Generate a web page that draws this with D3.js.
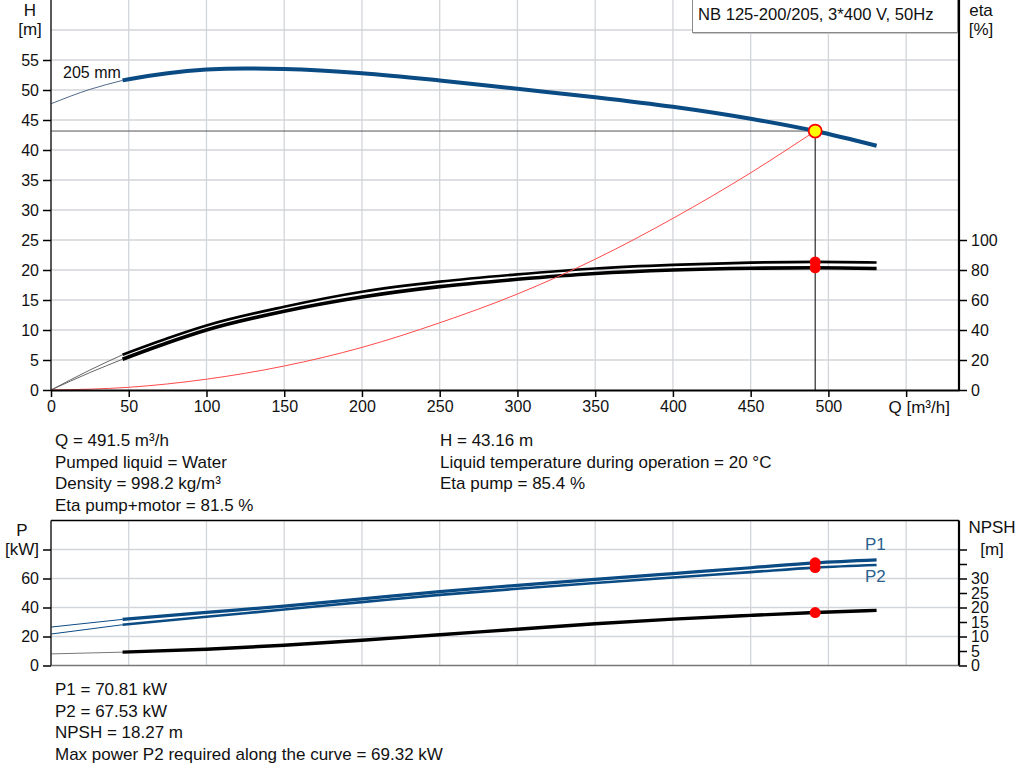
<!DOCTYPE html>
<html>
<head>
  <meta charset="UTF-8">
  <style>
    body { margin: 0; background: #fff; }
    svg { display: block; font-family: "Liberation Sans", Arial, sans-serif; }
    .tick text { font-size: 16px; fill: #111; }
    .info { font-size: 17px; fill: #111; }
  </style>
</head>
<body>
<svg></svg>
<script src="https://d3js.org/d3.v7.min.js"></script>

<script>

let width = 1024, height = 781;

let svg = d3.select("svg")
    .attr("width", width)
    .attr("height", height)
    .attr("viewBox", "0 0 " + width + " " + height);

// Head curve, 205 mm impeller
const qHead = [0, 25, 46, 50, 75, 100, 125, 150, 200, 250, 300, 350, 400, 450, 491.5, 531];
const head  = [47.7, 50.1, 51.6, 51.8, 52.8, 53.4, 53.6, 53.5, 52.8, 51.6, 50.2, 48.8, 47.2, 45.2, 43.16, 40.7];

// Efficiency curves [%]
const qEta = [0, 25, 46, 75, 100, 150, 200, 250, 300, 350, 400, 450, 491.5, 531];
const etaPump  = [0, 13.3, 23.5, 34.5, 43.0, 55.5, 65.5, 72.2, 77.1, 81.0, 83.4, 84.9, 85.4, 85.0];
const etaTotal = [0, 11.6, 20.5, 31.5, 40.0, 52.5, 62.0, 68.9, 73.8, 77.7, 80.0, 81.2, 81.5, 81.0];

// System curve through the duty point
const qSys = [0, 50, 100, 150, 200, 250, 300, 350, 400, 450, 491.5];
const hSys = [0, 0.45, 1.8, 4.0, 7.1, 11.2, 16.0, 21.8, 28.6, 36.2, 43.16];

// Power and NPSH curves
const qPow = [0, 46, 100, 150, 200, 250, 300, 350, 400, 450, 491.5, 531];
const p1   = [26.5, 31.8, 36.6, 41.0, 46.0, 51.0, 55.3, 59.4, 63.4, 67.4, 70.81, 72.9];
const p2   = [21.7, 28.1, 33.6, 38.6, 43.7, 48.7, 52.9, 56.9, 60.7, 64.4, 67.53, 69.32];
const npsh = [4.0, 4.6, 5.6, 7.0, 8.7, 10.6, 12.5, 14.4, 16.0, 17.3, 18.27, 19.0];

// Duty point
const duty = {q: 491.5, h: 43.16, etaPump: 85.4, etaTotal: 81.5, p1: 70.81, p2: 67.53, npsh: 18.27};
const thickFrom = 46;

const qTicks = [0, 50, 100, 150, 200, 250, 300, 350, 400, 450, 500, 550];
const hTicks = [0, 5, 10, 15, 20, 25, 30, 35, 40, 45, 50, 55];
const hGrid = [5, 10, 15, 20, 25, 30, 35, 40, 45, 50, 55, 60];
const etaTicks = [0, 20, 40, 60, 80, 100];
const pTicks = [0, 20, 40, 60, 80];
const npshTicks = [0, 5, 10, 15, 20, 25, 30, 35, 40];

const infoLeft = ["Q = 491.5 m³/h", "Pumped liquid = Water", "Density = 998.2 kg/m³", "Eta pump+motor = 81.5 %"];
const infoRight = ["H = 43.16 m", "Liquid temperature during operation = 20 °C", "Eta pump = 85.4 %"];
const infoBottom = ["P1 = 70.81 kW", "P2 = 67.53 kW", "NPSH = 18.27 m", "Max power P2 required along the curve = 69.32 kW"];

let x = d3.scaleLinear().domain([0, 584]).range([51, 959]);
let yH = d3.scaleLinear().domain([0, 65]).range([390, 0]);
let yEta = d3.scaleLinear().domain([0, 260]).range([390, 0]);
let yP = d3.scaleLinear().domain([0, 100]).range([665.5, 520.5]);
let yN = d3.scaleLinear().domain([0, 50]).range([665.5, 520.5]);

let gridColor = "#d2d5d9";
let blue = "#0b4b84";

// zip helper: split each curve into thin (start) and thick (rest) parts
function pts(qs, vs) { return qs.map((q, i) => [q, vs[i]]); }
function thinPart(p) { return p.filter(d => d[0] <= thickFrom); }
function thickPart(p) { return p.filter(d => d[0] >= thickFrom); }

function drawCurve(g, data, ys, color, thin, thick, thinColor) {
    let line = d3.line().x(d => x(d[0])).y(d => ys(d[1])).curve(d3.curveMonotoneX);
    g.append("path").attr("d", line(thinPart(data)))
        .attr("fill", "none").attr("stroke", thinColor || color).attr("stroke-width", thin);
    g.append("path").attr("d", line(thickPart(data)))
        .attr("fill", "none").attr("stroke", color).attr("stroke-width", thick)
        .attr("stroke-linecap", "butt");
}

// ---------- top chart ----------
let chartH = svg.append("g");

chartH.append("g").selectAll("line").data(hGrid).enter().append("line")
    .attr("x1", x(0)).attr("x2", x(584))
    .attr("y1", d => yH(d)).attr("y2", d => yH(d))
    .attr("stroke", gridColor).attr("stroke-width", 1.3);
chartH.append("g").selectAll("line").data(qTicks.slice(1)).enter().append("line")
    .attr("x1", d => x(d)).attr("x2", d => x(d))
    .attr("y1", yH(65)).attr("y2", yH(0))
    .attr("stroke", gridColor).attr("stroke-width", 1.3);

// duty point guide lines
chartH.append("line")
    .attr("x1", x(0)).attr("x2", x(duty.q))
    .attr("y1", yH(duty.h)).attr("y2", yH(duty.h))
    .attr("stroke", "#555").attr("stroke-width", 1);
chartH.append("line")
    .attr("x1", x(duty.q)).attr("x2", x(duty.q))
    .attr("y1", yH(duty.h)).attr("y2", yH(0))
    .attr("stroke", "#000").attr("stroke-width", 1);

drawCurve(chartH, pts(qEta, etaPump), yEta, "#000", 1, 2.7, "#666");
drawCurve(chartH, pts(qEta, etaTotal), yEta, "#000", 1, 3.6, "#666");

chartH.append("path")
    .attr("d", d3.line().x(d => x(d[0])).y(d => yH(d[1])).curve(d3.curveMonotoneX)(pts(qSys, hSys)))
    .attr("fill", "none").attr("stroke", "#ff4a4a").attr("stroke-width", 1);

drawCurve(chartH, pts(qHead, head), yH, blue, 1, 4, "#50698a");

chartH.append("text").attr("x", 63).attr("y", 78).attr("class", "info").style("font-size", "16px").text("205 mm");

chartH.selectAll(".etadot").data([duty.etaPump, duty.etaTotal]).enter().append("circle")
    .attr("cx", x(duty.q)).attr("cy", d => yEta(d)).attr("r", 5.5).attr("fill", "#ff0000");

chartH.append("circle").attr("cx", x(duty.q)).attr("cy", yH(duty.h)).attr("r", 6.5)
    .attr("fill", "#ffff00").attr("stroke", "#ff0000").attr("stroke-width", 1.8);

// axes
chartH.append("g").attr("transform", "translate(" + x(0) + ",0)")
    .call(d3.axisLeft(yH).tickValues(hTicks).tickSize(8).tickPadding(4).tickSizeOuter(0))
    .call(g => g.select(".domain").attr("d", "M0," + yH(0) + "V0").attr("stroke", "#222").attr("stroke-width", 1.5));
chartH.append("g").attr("transform", "translate(" + x(584) + ",0)")
    .call(d3.axisRight(yEta).tickValues(etaTicks).tickSize(8).tickPadding(4).tickSizeOuter(0))
    .call(g => g.select(".domain").attr("d", "M0," + yEta(0) + "V0").attr("stroke", "#000").attr("stroke-width", 2.2));
chartH.append("g").attr("transform", "translate(0," + yH(0) + ")")
    .call(d3.axisBottom(x).tickValues(qTicks).tickSize(7).tickPadding(4).tickSizeOuter(0)
        .tickFormat(d => d == 550 ? "Q [m³/h]" : d))
    .call(g => g.select(".domain").attr("stroke", "#000").attr("stroke-width", 2.2))
    .call(g => g.selectAll(".tick").filter(d => d == 550).select("text")
        .attr("text-anchor", "start").attr("x", 888 - x(550)).style("font-size", "17px"));
chartH.selectAll(".tick line").attr("stroke-width", 1.5);

chartH.append("text").attr("x", 30).attr("y", 16).attr("text-anchor", "middle").attr("class", "info").text("H");
chartH.append("text").attr("x", 30).attr("y", 35).attr("text-anchor", "middle").attr("class", "info").text("[m]");
chartH.append("text").attr("x", 981).attr("y", 16).attr("text-anchor", "middle").attr("class", "info").text("eta");
chartH.append("text").attr("x", 981).attr("y", 35).attr("text-anchor", "middle").attr("class", "info").text("[%]");

// title box
chartH.append("rect").attr("x", 692.5).attr("y", -1).attr("width", 265).attr("height", 33.5)
    .attr("fill", "#fff").attr("stroke", "#8a8a8a").attr("stroke-width", 1);
chartH.append("line").attr("x1", 693).attr("x2", 958).attr("y1", 33.5).attr("y2", 33.5)
    .attr("stroke", "#c8c8c8").attr("stroke-width", 1);
chartH.append("text").attr("x", 698).attr("y", 20).attr("class", "info").style("font-size", "16.6px")
    .text("NB 125-200/205, 3*400 V, 50Hz");

// ---------- info text ----------
svg.append("g").selectAll("text").data(infoLeft).enter().append("text")
    .attr("class", "info").attr("x", 55).attr("y", (d, i) => 446 + i * 21.7).text(d => d);
svg.append("g").selectAll("text").data(infoRight).enter().append("text")
    .attr("class", "info").attr("x", 440).attr("y", (d, i) => 446 + i * 21.7).text(d => d);

// ---------- bottom chart ----------
let chartP = svg.append("g");

chartP.append("g").selectAll("line").data(pTicks.slice(1)).enter().append("line")
    .attr("x1", x(0)).attr("x2", x(584))
    .attr("y1", d => yP(d)).attr("y2", d => yP(d))
    .attr("stroke", gridColor).attr("stroke-width", 1.3);
chartP.append("g").selectAll("line").data(qTicks.slice(1)).enter().append("line")
    .attr("x1", d => x(d)).attr("x2", d => x(d))
    .attr("y1", yP(100)).attr("y2", yP(0))
    .attr("stroke", gridColor).attr("stroke-width", 1.3);

drawCurve(chartP, pts(qPow, npsh), yN, "#000", 1, 3.4, "#777");
drawCurve(chartP, pts(qPow, p2), yP, blue, 1, 2.6);
drawCurve(chartP, pts(qPow, p1), yP, blue, 1, 3.2);

chartP.selectAll(".pdot").data([duty.p1, duty.p2]).enter().append("circle")
    .attr("cx", x(duty.q)).attr("cy", d => yP(d)).attr("r", 5.5).attr("fill", "#ff0000");
chartP.append("circle").attr("cx", x(duty.q)).attr("cy", yN(duty.npsh)).attr("r", 5.5).attr("fill", "#ff0000");

chartP.append("text").attr("x", 865).attr("y", 550).attr("class", "info").style("fill", "#2a5f8f").text("P1");
chartP.append("text").attr("x", 865).attr("y", 582).attr("class", "info").style("fill", "#2a5f8f").text("P2");

chartP.append("line").attr("x1", x(0)).attr("x2", x(584)).attr("y1", yP(100)).attr("y2", yP(100))
    .attr("stroke", "#000").attr("stroke-width", 1.5);
chartP.append("line").attr("x1", x(0)).attr("x2", x(584)).attr("y1", yP(0)).attr("y2", yP(0))
    .attr("stroke", "#777").attr("stroke-width", 1.5);

chartP.append("g").attr("transform", "translate(" + x(0) + ",0)")
    .call(d3.axisLeft(yP).tickValues(pTicks).tickSize(8).tickPadding(4).tickSizeOuter(0)
        .tickFormat(d => d == 80 ? "" : d))
    .call(g => g.select(".domain").attr("d", "M0," + yP(0) + "V" + yP(100)).attr("stroke", "#222").attr("stroke-width", 1.5));
chartP.append("g").attr("transform", "translate(" + x(584) + ",0)")
    .call(d3.axisRight(yN).tickValues(npshTicks).tickSize(8).tickPadding(4).tickSizeOuter(0)
        .tickFormat(d => d > 30 ? "" : d))
    .call(g => g.select(".domain").attr("d", "M0," + yN(0) + "V" + yN(50)).attr("stroke", "#000").attr("stroke-width", 2.2));
chartP.selectAll(".tick line").attr("stroke-width", 1.5);

chartP.append("text").attr("x", 22).attr("y", 536).attr("text-anchor", "middle").attr("class", "info").text("P");
chartP.append("text").attr("x", 22).attr("y", 555).attr("text-anchor", "middle").attr("class", "info").text("[kW]");
chartP.append("text").attr("x", 992).attr("y", 533).attr("text-anchor", "middle").attr("class", "info").text("NPSH");
chartP.append("text").attr("x", 992).attr("y", 555).attr("text-anchor", "middle").attr("class", "info").text("[m]");

svg.append("g").selectAll("text").data(infoBottom).enter().append("text")
    .attr("class", "info").attr("x", 55).attr("y", (d, i) => 695 + i * 21.5).text(d => d);

</script>

</body>
</html>
